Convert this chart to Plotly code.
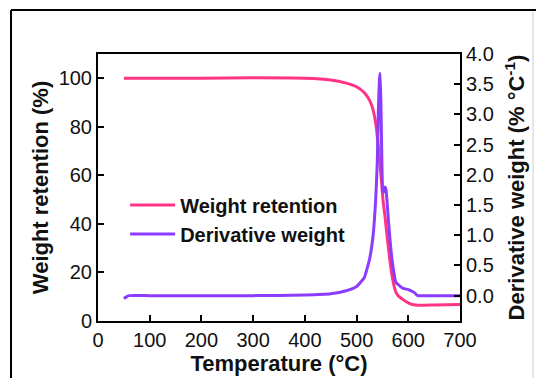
import plotly.graph_objects as go

# Weight retention (%) vs temperature (°C)
temp_w = [50, 100, 200, 300, 400, 450, 480, 500, 515, 525, 532, 538, 542, 545, 548, 551,
          555, 560, 565, 570, 575, 580, 590, 600, 610, 620, 650, 700]
weight = [100, 100, 100, 100.2, 100, 99.3, 98, 96.5, 94, 91, 87, 80, 72, 65, 58, 50,
          43, 33, 24, 17, 12.5, 10.5, 8.8, 7.5, 6.7, 6.5, 6.6, 6.8]

# Derivative weight (% °C^-1) vs temperature (°C)
temp_d = [50, 55, 60, 100, 200, 300, 400, 450, 480, 500, 515, 525, 532, 537, 540, 542,
          544, 545.5, 547, 549, 551, 553, 555, 557, 559, 562, 566, 570, 576, 585, 590,
          600, 605, 612, 618, 650, 700]
deriv = [-0.05, -0.02, 0.0, 0.0, 0.0, 0.0, 0.01, 0.03, 0.08, 0.15, 0.3, 0.6, 1.0, 1.6,
         2.2, 3.0, 3.55, 3.68, 3.2, 2.2, 1.72, 1.72, 1.8, 1.75, 1.55, 1.2, 0.8, 0.5, 0.22,
         0.15, 0.12, 0.1, 0.08, 0.05, 0.0, 0.0, 0.0]

x_ticks = [0, 100, 200, 300, 400, 500, 600, 700]
y_ticks = [0, 20, 40, 60, 80, 100]
y2_ticks = [0.0, 0.5, 1.0, 1.5, 2.0, 2.5, 3.0, 3.5, 4.0]

PINK = "#ff3385"
PURPLE = "#8c3cff"
FONT = "Arial, Liberation Sans, sans-serif"
TXT = "#111111"

fig = go.Figure()
fig.add_trace(go.Scatter(x=temp_w, y=weight, mode="lines", name="<b>Weight retention</b>",
                         legendgroup="a",
                         line=dict(color=PINK, width=3, shape="spline", smoothing=0.6)))
fig.add_trace(go.Scatter(x=temp_d, y=deriv, mode="lines", name="<b>Derivative weight</b>",
                         yaxis="y2", legendgroup="b",
                         line=dict(color=PURPLE, width=3, shape="spline", smoothing=0.4)))

axis_common = dict(showline=True, linecolor="black", linewidth=2, ticks="inside",
                   ticklen=6, tickwidth=2, tickcolor="black", showgrid=False,
                   zeroline=False, automargin=False,
                   tickfont=dict(family=FONT, size=20, color=TXT))

fig.update_layout(
    width=536, height=378,
    margin=dict(l=98, r=76, t=54, b=57),
    paper_bgcolor="white", plot_bgcolor="white",
    xaxis=dict(range=[0, 700], tickvals=x_ticks, mirror=True,
               title=dict(text="<b>Temperature (°C)</b>", standoff=4,
                          font=dict(family=FONT, size=22, color=TXT)),
               **axis_common),
    yaxis=dict(range=[0, 110], tickvals=y_ticks,
               title=dict(text="<b>Weight retention (%)</b>", standoff=4,
                          font=dict(family=FONT, size=22, color=TXT)),
               **axis_common),
    yaxis2=dict(range=[-0.42, 4.0], tickvals=y2_ticks, tickformat=".1f",
                overlaying="y", side="right",
                title=dict(text="<b>Derivative weight (% °C<sup>-1</sup>)</b>", standoff=16,
                           font=dict(family=FONT, size=22, color=TXT)),
                **axis_common),
    legend=dict(x=0.075, y=0.38, xanchor="left", yanchor="middle",
                bgcolor="rgba(0,0,0,0)", borderwidth=0, itemwidth=45,
                tracegroupgap=0,
                font=dict(family=FONT, size=20, color=TXT)),
    showlegend=True,
)

# outer figure frame
fig.add_shape(type="line", xref="paper", yref="paper", x0=-0.2403, x1=1.25,
              y0=1.1648, y1=1.1648, line=dict(color="black", width=2))
fig.add_shape(type="line", xref="paper", yref="paper", x0=-0.2403, x1=-0.2403,
              y0=1.1648, y1=-0.22, line=dict(color="black", width=2))
fig.add_shape(type="line", xref="paper", yref="paper", x0=1.2017, x1=1.2017,
              y0=1.16, y1=-0.22, line=dict(color="#cccccc", width=1))

fig.write_html("out.html")
